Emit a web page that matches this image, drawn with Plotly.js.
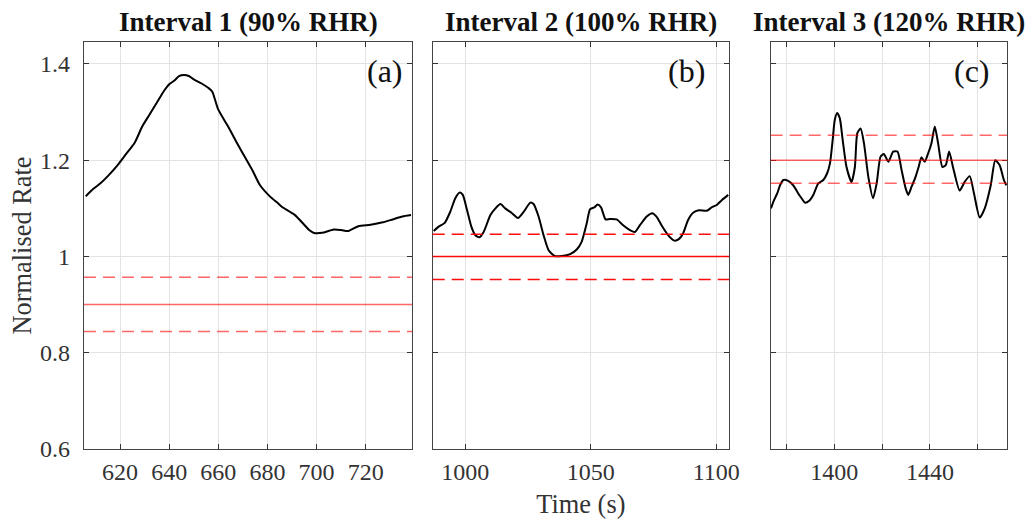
<!DOCTYPE html>
<html>
<head>
<meta charset="utf-8">
<script src="https://cdn.plot.ly/plotly-3.0.1.min.js"></script>
<style>html,body{margin:0;padding:0;background:#fff;}#chart{width:1033px;height:519px;}</style>
</head>
<body>
<div id="chart"></div>
<script>
// ---- Data ----
const panelTitles = ["Interval 1 (90% RHR)", "Interval 2 (100% RHR)", "Interval 3 (120% RHR)"];
const panelLetters = ["(a)", "(b)", "(c)"];

const t1 = [606, 609, 612, 615, 619, 622, 626, 629, 632, 635, 638, 640, 642, 644, 646, 648, 650, 653, 656, 657.5, 660, 664, 668, 671, 674, 677, 681, 684, 686, 691, 695, 697, 699, 703, 707, 710, 713, 717, 722, 727, 731, 735, 738.5];
const r1 = [1.125, 1.140, 1.152, 1.167, 1.190, 1.210, 1.237, 1.270, 1.295, 1.320, 1.345, 1.358, 1.365, 1.375, 1.377, 1.375, 1.368, 1.360, 1.350, 1.343, 1.305, 1.270, 1.232, 1.205, 1.178, 1.148, 1.125, 1.112, 1.103, 1.087, 1.066, 1.055, 1.049, 1.050, 1.056, 1.055, 1.053, 1.063, 1.066, 1.071, 1.077, 1.083, 1.086];

const t2 = [987.4, 989.4, 991.8, 994.0, 996.0, 997.8, 999.0, 1000.7, 1002.4, 1004.0, 1005.6, 1007.3, 1010.0, 1012.0, 1014.0, 1015.9, 1018.6, 1021.0, 1023.3, 1025.9, 1027.2, 1029.2, 1031.2, 1033.2, 1035.6, 1038.5, 1041.8, 1044.5, 1046.4, 1048.4, 1049.7, 1051.4, 1052.7, 1054.1, 1055.9, 1057.6, 1060.3, 1062.9, 1065.6, 1067.6, 1069.6, 1072.3, 1074.5, 1076.2, 1078.2, 1080.9, 1083.3, 1085.1, 1086.8, 1088.8, 1090.8, 1093.1, 1096.2, 1098.2, 1100.2, 1102.2, 1104.8];
const r2 = [1.053, 1.062, 1.070, 1.093, 1.121, 1.133, 1.128, 1.096, 1.062, 1.044, 1.040, 1.051, 1.086, 1.100, 1.109, 1.100, 1.090, 1.080, 1.093, 1.112, 1.109, 1.083, 1.044, 1.013, 1.001, 1.001, 1.005, 1.015, 1.031, 1.069, 1.098, 1.102, 1.108, 1.102, 1.077, 1.078, 1.077, 1.065, 1.055, 1.051, 1.065, 1.083, 1.090, 1.083, 1.065, 1.044, 1.033, 1.036, 1.048, 1.076, 1.091, 1.096, 1.095, 1.102, 1.107, 1.117, 1.128];

const t3 = [1373.5, 1374.8, 1376.2, 1377.3, 1378.7, 1380.7, 1382.8, 1384.9, 1386.3, 1387.7, 1389.5, 1391.2, 1393.3, 1395.4, 1397.0, 1398.2, 1399.3, 1400.2, 1401.2, 1402.3, 1403.5, 1405.1, 1407.2, 1408.6, 1409.6, 1411.0, 1412.4, 1414.2, 1416.2, 1417.7, 1419.3, 1420.7, 1422.6, 1424.6, 1426.4, 1428.1, 1429.8, 1430.9, 1432.3, 1434.0, 1435.3, 1436.4, 1437.8, 1439.2, 1440.6, 1442.0, 1443.4, 1445.2, 1446.6, 1448.0, 1449.6, 1452.4, 1454.5, 1456.6, 1458.4, 1460.8, 1462.9, 1465.4, 1467.3, 1469.1, 1470.9, 1471.9];
const r3 = [1.100, 1.117, 1.132, 1.148, 1.159, 1.157, 1.148, 1.131, 1.121, 1.112, 1.116, 1.128, 1.152, 1.159, 1.173, 1.194, 1.242, 1.284, 1.298, 1.287, 1.242, 1.186, 1.155, 1.186, 1.256, 1.266, 1.235, 1.166, 1.121, 1.152, 1.207, 1.213, 1.197, 1.218, 1.218, 1.180, 1.142, 1.128, 1.145, 1.166, 1.187, 1.206, 1.197, 1.214, 1.235, 1.270, 1.235, 1.186, 1.190, 1.218, 1.186, 1.137, 1.155, 1.167, 1.131, 1.081, 1.100, 1.148, 1.200, 1.190, 1.159, 1.148];

const targetRate = [0.9, 1.0, 1.2];
const upperBound = [0.957, 1.046, 1.252];
const lowerBound = [0.844, 0.952, 1.152];

const xTicks1 = [620, 640, 660, 680, 700, 720];
const xTicks2 = [1000, 1050, 1100];
const xTicks3 = [1380, 1400, 1420, 1440, 1460];
const xTickText3 = ["", "1400", "", "1440", ""];
const yTicks = [0.6, 0.8, 1.0, 1.2, 1.4];

// ---- Styling / layout ----
const FONT = "'Liberation Serif', 'Times New Roman', serif";
const TXT = "#333333";
const xs = [t1, t2, t3], ys = [r1, r2, r3];
const xRanges = [[605.3, 738.9], [987, 1105.1], [1373.4, 1472.2]];
const doms = [[0, 0.3554], [0.3778, 0.6988], [0.7440, 1.0]];
const redCols = ["rgba(255,0,0,0.6)", "rgba(255,0,0,0.95)", "rgba(255,0,0,0.6)"];

const traces = [];
const shapes = [];
const annotations = [];
for (let i = 0; i < 3; i++) {
  const xa = i === 0 ? "x" : "x" + (i + 1);
  const ya = i === 0 ? "y" : "y" + (i + 1);
  traces.push({x: xs[i], y: ys[i], xaxis: xa, yaxis: ya, type: "scatter", mode: "lines",
    line: {color: "#000", width: 2, shape: "spline", smoothing: 0.6}, hoverinfo: "skip", showlegend: false});
  const lvls = [[targetRate[i], "solid"], [upperBound[i], "12px,7px"], [lowerBound[i], "12px,7px"]];
  lvls.forEach(([v, d]) => shapes.push({type: "line", xref: xa + " domain", yref: ya, x0: 0, x1: 1, y0: v, y1: v,
    line: {color: redCols[i], width: 1.5, dash: d}, layer: "above"}));
  annotations.push({text: "<b>" + panelTitles[i] + "</b>", xref: xa + " domain", yref: ya + " domain", x: 0.5, y: 1,
    xanchor: "center", yanchor: "bottom", yshift: 3, showarrow: false, font: {family: FONT, size: 27, color: "#111"}});
  annotations.push({text: panelLetters[i], xref: xa, yref: ya, x: [727.9, 1088.0, 1457.4][i], y: 1.385,
    xanchor: "center", yanchor: "middle", showarrow: false, font: {family: FONT, size: 32, color: "#111"}});
}

function xAxis(i) {
  const ax = {
    domain: doms[i], range: xRanges[i], anchor: i === 0 ? "y" : "y" + (i + 1),
    tickmode: "array", tickvals: [xTicks1, xTicks2, xTicks3][i],
    ticks: "inside", ticklen: 5, tickcolor: "#333", tickwidth: 1,
    showline: true, linecolor: "#444", linewidth: 1.2, mirror: "ticks",
    showgrid: true, gridcolor: "#e3e3e3", gridwidth: 1, zeroline: false,
    tickfont: {family: FONT, size: 24, color: TXT}, ticklabelstandoff: 1
  };
  if (i === 2) ax.ticktext = xTickText3;
  if (i === 1) ax.title = {text: "Time (s)", font: {family: FONT, size: 26.4, color: TXT}, standoff: 12};
  return ax;
}
function yAxis(i) {
  const ax = {
    domain: [0, 1], range: [0.6, 1.4457], anchor: i === 0 ? "x" : "x" + (i + 1),
    tickmode: "array", tickvals: yTicks,
    ticks: "inside", ticklen: 5, tickcolor: "#333", tickwidth: 1,
    showline: true, linecolor: "#444", linewidth: 1.2, mirror: "ticks",
    showgrid: true, gridcolor: "#e3e3e3", gridwidth: 1, zeroline: false,
    showticklabels: i === 0,
    tickfont: {family: FONT, size: 24, color: TXT}, ticklabelstandoff: 8
  };
  if (i === 0) ax.title = {text: "Normalised Rate", font: {family: FONT, size: 26.4, color: TXT}, standoff: 0};
  return ax;
}

const layout = {
  width: 1033, height: 519,
  margin: {l: 84, r: 26, t: 42, b: 70, autoexpand: false},
  paper_bgcolor: "#fff", plot_bgcolor: "#fff",
  showlegend: false,
  xaxis: xAxis(0), xaxis2: xAxis(1), xaxis3: xAxis(2),
  yaxis: yAxis(0), yaxis2: yAxis(1), yaxis3: yAxis(2),
  shapes: shapes, annotations: annotations
};

Plotly.newPlot("chart", traces, layout, {displayModeBar: false, staticPlot: true});
</script>
</body>
</html>
